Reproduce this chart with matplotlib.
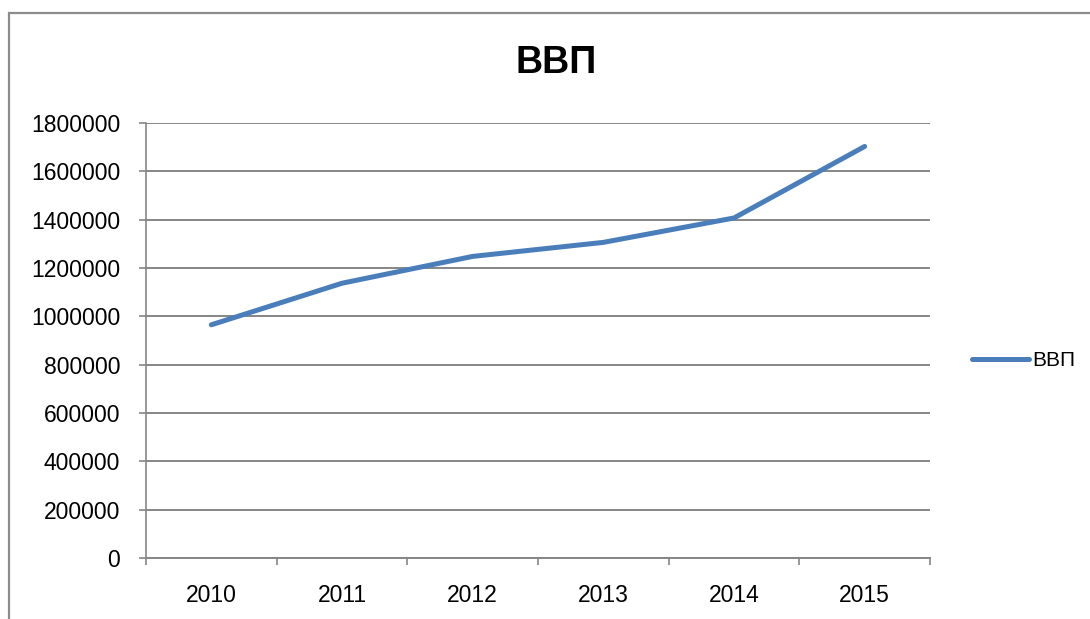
import matplotlib
matplotlib.use('Agg')
import matplotlib.pyplot as plt
from matplotlib.patches import Rectangle

plt.rcParams['font.family'] = ['Liberation Sans', 'DejaVu Sans']

years = ['2010', '2011', '2012', '2013', '2014', '2015']
gdp = [965000, 1137000, 1248000, 1306000, 1407000, 1703000]
y_ticks = [0, 200000, 400000, 600000, 800000, 1000000, 1200000, 1400000, 1600000, 1800000]

GRID = '#868686'
LINE = '#4A7EBB'

fig = plt.figure(figsize=(10.9, 6.19), dpi=100)
ax = fig.add_axes([146 / 1090, 1 - 558 / 619, (930 - 146) / 1090, (558 - 123) / 619])

# chart area border
fig.patches.append(Rectangle((9 / 1090, -0.1), 1.2, 1 - 13 / 619 + 0.1, transform=fig.transFigure,
                             fill=False, edgecolor='#8c8c8c', linewidth=1.6))

x = list(range(len(years)))
ax.plot(x, gdp, color=LINE, linewidth=3.6, label='ВВП', solid_capstyle='round')

ax.set_ylim(0, 1800000)
ax.set_xlim(-0.5, len(years) - 0.5)
ax.set_yticks(y_ticks)
ax.set_yticklabels([str(v) for v in y_ticks], fontsize=16.5)
ax.yaxis.grid(True, color=GRID, linewidth=1.4)
ax.set_axisbelow(True)

# category ticks between years, labels centred
ax.set_xticks([i - 0.5 for i in range(len(years) + 1)])
ax.set_xticklabels([])
ax.set_xticks(x, minor=True)
ax.set_xticklabels(years, minor=True, fontsize=16.5)
ax.tick_params(axis='x', which='minor', length=0, pad=19)
ax.tick_params(axis='x', which='major', length=5, color=GRID, width=1.2)
ax.tick_params(axis='y', length=5, color=GRID, width=1.2, pad=13.5)

for side in ['top', 'right']:
    ax.spines[side].set_visible(False)
ax.spines['left'].set_color(GRID)
ax.spines['bottom'].set_color(GRID)
ax.spines['left'].set_linewidth(1.2)
ax.spines['bottom'].set_linewidth(1.4)

fig.text(556 / 1090, 1 - 63 / 619, 'ВВП', fontsize=27, fontweight='bold', ha='center', va='center')

ax.legend(loc='center left', bbox_to_anchor=(962 / 1090, 1 - 361 / 619), bbox_transform=fig.transFigure,
          frameon=False, fontsize=15, handlelength=2.7, handletextpad=0.15, borderpad=0)

fig.savefig('out.png', dpi=100, facecolor='white')
